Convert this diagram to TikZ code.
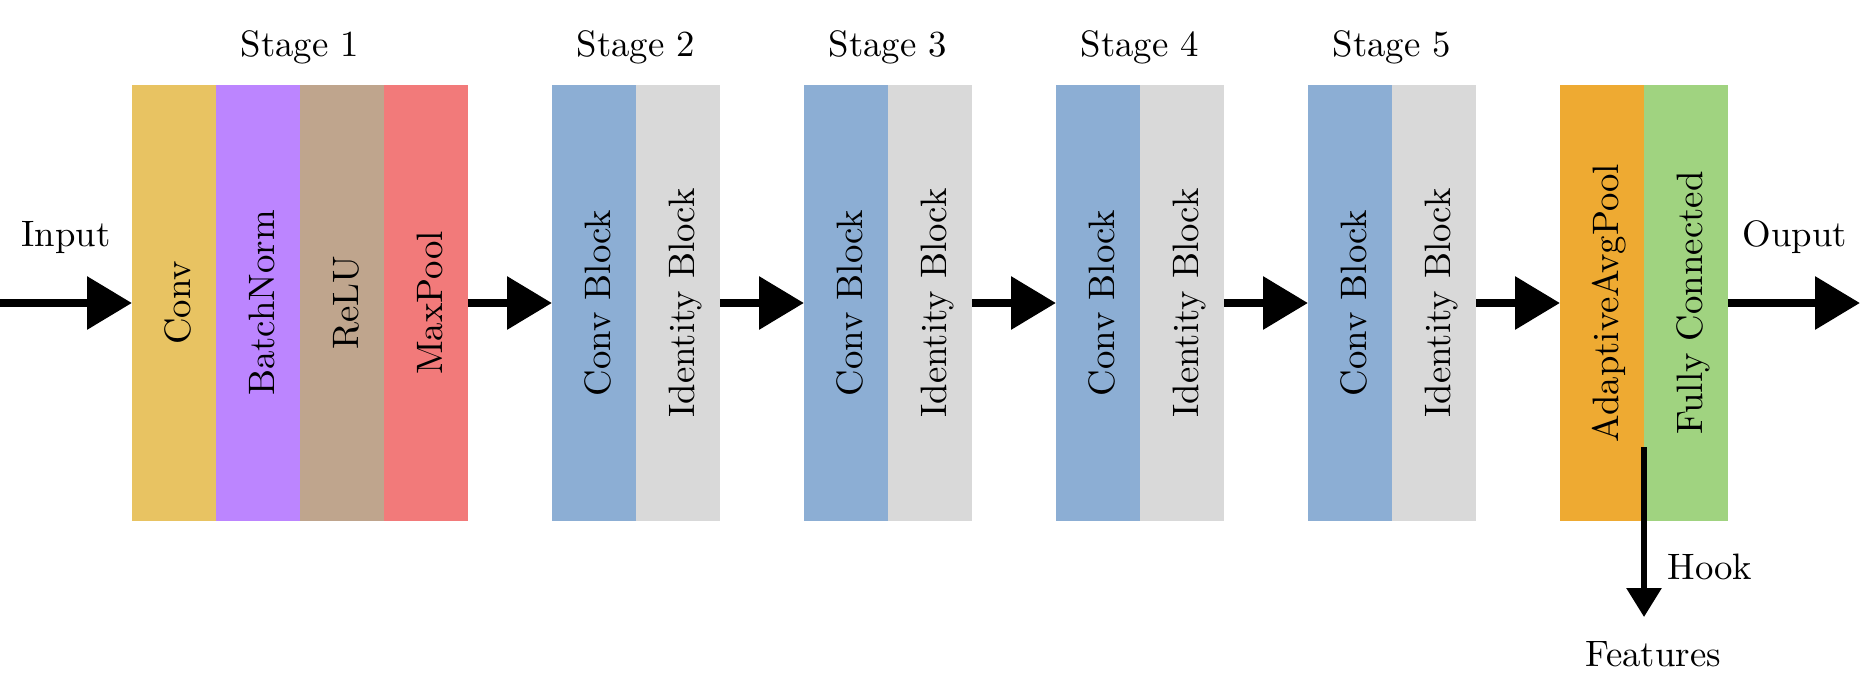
\documentclass[tikz,border=0pt]{standalone}
\usepackage{graphicx}
\usetikzlibrary{arrows.meta}
\definecolor{cConv}{RGB}{232,195,98}
\definecolor{cBN}{RGB}{188,133,255}
\definecolor{cReLU}{RGB}{191,165,141}
\definecolor{cMP}{RGB}{242,122,122}
\definecolor{cCB}{RGB}{140,174,212}
\definecolor{cID}{RGB}{217,217,217}
\definecolor{cAAP}{RGB}{238,170,50}
\definecolor{cFC}{RGB}{160,211,128}
\newcommand{\btext}[1]{\scalebox{1.245}{#1}}
\newcommand{\rtext}[1]{\rotatebox{90}{\smash{\btext{#1}}\rule{0pt}{10.84pt}}}
\begin{document}
\begin{tikzpicture}[x={(0.0119048cm,0)}, y={(0,-0.0119048cm)},
  every node/.style={font=\fontsize{10}{12}\selectfont},
  blk/.style={rectangle, inner sep=0pt, outer sep=0pt, minimum width=1cm, minimum height=5.2cm},
  lbl/.style={anchor=base, inner sep=0pt},
  flow/.style={line width=3pt, -{Triangle[length=15.2pt,width=17.3pt]}},
  hookarrow/.style={line width=2pt, -{Triangle[length=9.8pt,width=11.5pt]}}]
\useasboundingbox (0,0) rectangle (1860,693);
% Stage 1
\node[blk, fill=cConv] (conv) at (174,303) {\rtext{Conv}};
\node[blk, fill=cBN] (bn) at (258,303) {\rtext{BatchNorm}};
\node[blk, fill=cReLU] (relu) at (342,303) {\rtext{ReLU}};
\node[blk, fill=cMP] (mp) at (426,303) {\rtext{MaxPool}};
% Stage 2-5
\node[blk, fill=cCB] (cb2) at (594,303) {\rtext{Conv Block}};
\node[blk, fill=cID] (id2) at (678,303) {\rtext{Identity Block}};
\node[blk, fill=cCB] (cb3) at (846,303) {\rtext{Conv Block}};
\node[blk, fill=cID] (id3) at (930,303) {\rtext{Identity Block}};
\node[blk, fill=cCB] (cb4) at (1098,303) {\rtext{Conv Block}};
\node[blk, fill=cID] (id4) at (1182,303) {\rtext{Identity Block}};
\node[blk, fill=cCB] (cb5) at (1350,303) {\rtext{Conv Block}};
\node[blk, fill=cID] (id5) at (1434,303) {\rtext{Identity Block}};
% Head
\node[blk, fill=cAAP] (aap) at (1602,303) {\rtext{AdaptiveAvgPool}};
\node[blk, fill=cFC] (fc) at (1686,303) {\rtext{Fully Connected}};
% Stage labels
\node[lbl] (s1) at (300,56) {\btext{Stage 1}};
\node[lbl] (s2) at (636,56) {\btext{Stage 2}};
\node[lbl] (s3) at (888,56) {\btext{Stage 3}};
\node[lbl] (s4) at (1140,56) {\btext{Stage 4}};
\node[lbl] (s5) at (1392,56) {\btext{Stage 5}};
% Input / output
\coordinate (inStart) at (0,303);
\coordinate (outEnd) at (1860,303);
\node[lbl] (inLbl) at (66,246) {\btext{Input}};
\node[lbl] (outLbl) at (1795,246) {\btext{Ouput}};
\draw[flow] (inStart) -- (conv.west);
\draw[flow] (mp.east) -- (cb2.west);
\draw[flow] (id2.east) -- (cb3.west);
\draw[flow] (id3.east) -- (cb4.west);
\draw[flow] (id4.east) -- (cb5.west);
\draw[flow] (id5.east) -- (aap.west);
\draw[flow] (fc.east) -- (outEnd);
% Hook
\coordinate (hookStart) at (1644,447);
\coordinate (hookEnd) at (1644,617);
\draw[hookarrow] (hookStart) -- (hookEnd);
\node[lbl, anchor=base west] (hookLbl) at (1667,579) {\btext{Hook}};
\node[lbl] (feat) at (1653,666) {\btext{Features}};
\end{tikzpicture}
\end{document}
